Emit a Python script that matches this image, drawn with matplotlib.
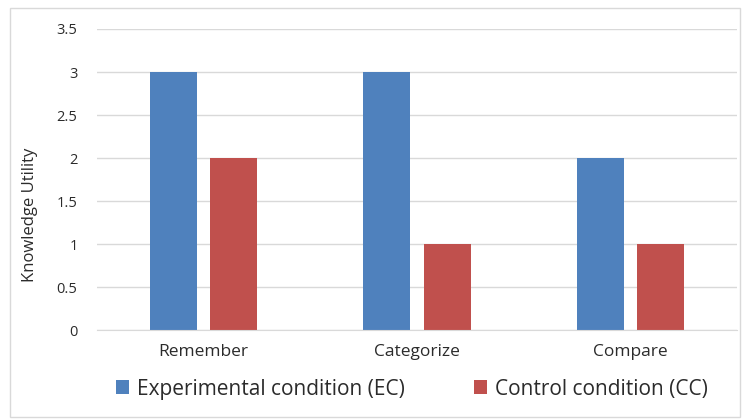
import matplotlib.pyplot as plt
import numpy as np
from matplotlib.patches import Rectangle

categories = ['Remember', 'Categorize', 'Compare']
ec_values = [3, 3, 2]
cc_values = [2, 1, 1]
series_names = ['Experimental condition (EC)', 'Control condition (CC)']
yticks = [0, 0.5, 1, 1.5, 2, 2.5, 3, 3.5]

blue = '#4F81BD'
red = '#C0504D'
font = 'Open Sans'
txt = '#2B2B2B'

fig = plt.figure(figsize=(7.45, 4.19), dpi=100)
# light frame round the whole chart
fig.patches.append(Rectangle((10/745, 1 - 417/419), 730/745, 409/419,
                             transform=fig.transFigure, fill=False,
                             edgecolor='#D9D9D9', lw=1))

ax = fig.add_axes([97/745, 1 - 330/419, 640/745, 301/419])
x = np.arange(len(categories))
w = 0.22
off = 0.141
ax.bar(x - off, ec_values, w, color=blue, label=series_names[0])
ax.bar(x + off, cc_values, w, color=red, label=series_names[1])

ax.set_xlim(-0.5, 2.5)
ax.set_ylim(0, 3.5)
ax.set_yticks(yticks)
ax.set_yticklabels(['0', '0.5', '1', '1.5', '2', '2.5', '3', '3.5'],
                   fontsize=10.5, family=font, color=txt)
ax.set_xticks(x)
ax.set_xticklabels(categories, fontsize=12.5, family=font, color=txt)
ax.tick_params(length=0, pad=14)
ax.tick_params(axis='x', pad=10)
ax.grid(axis='y', color='#D9D9D9', lw=1)
ax.set_axisbelow(True)
for s in ['top', 'right', 'left']:
    ax.spines[s].set_visible(False)
ax.spines['bottom'].set_color('#D9D9D9')

fig.text(30/745, 1 - 215/419, 'Knowledge Utility', rotation=90,
         ha='center', va='center', fontsize=12, family=font, color=txt)

leg = fig.legend(loc='center', bbox_to_anchor=(412/745, 1 - 389/419), ncol=2,
                 frameon=False, handlelength=0.62, handleheight=0.62,
                 handletextpad=0.4, columnspacing=3.3,
                 prop={'family': font, 'size': 15})
for t in leg.get_texts():
    t.set_color(txt)

fig.savefig('out.png', dpi=100)
